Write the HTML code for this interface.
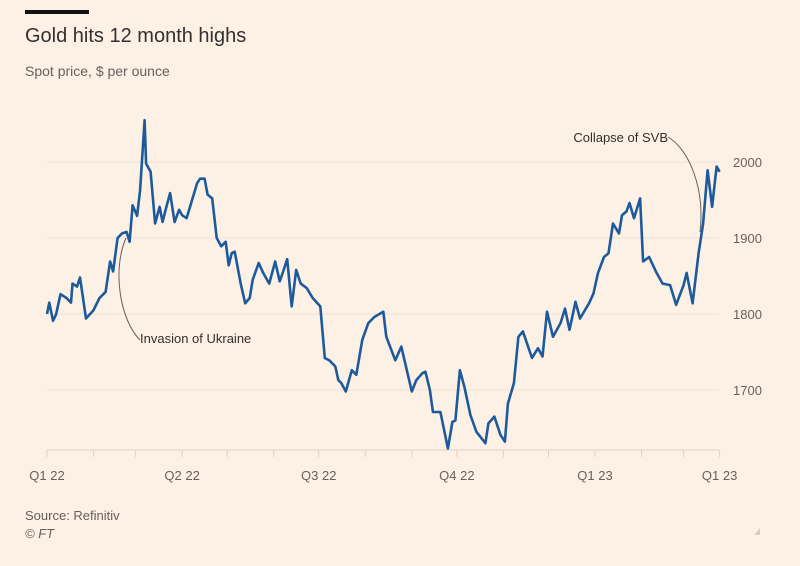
<!DOCTYPE html>
<html><head><meta charset="utf-8"><style>
body{margin:0;background:#fdf1e6;}
#wrap{position:relative;width:800px;height:566px;background:#fdf1e6;font-family:"Liberation Sans",sans-serif;overflow:hidden;}
.t{position:absolute;white-space:nowrap;}
</style></head><body>
<div id="wrap">
<div class="t" style="left:25px;top:10px;width:64px;height:4px;background:#111;"></div>
<div class="t" style="left:25px;top:25px;font-size:20px;color:#33302e;">Gold hits 12 month highs</div>
<div class="t" style="left:25px;top:63px;font-size:14px;color:#66605c;">Spot price, $ per ounce</div>
<svg id="chart" width="800" height="566" style="position:absolute;left:0;top:0;"></svg>
<div class="t" style="left:25px;top:508px;font-size:13px;color:#66605c;">Source: Refinitiv</div>
<div class="t" style="left:25px;top:526px;font-size:13px;font-style:italic;color:#66605c;">© FT</div>
</div>
<script>
const days=[0,1.5,4,6,9,13,16,17,20,22,26,31,35,39,42,44,47,50,53,55,57,60,62,65,66,69,72,75,77,79,82,85,88,90,93,100,102,105,107,110,113,116,119,121,123,125,129,132,135,137,141,144,148,152,155,157,160,163,166,169,173,177,182,185,188,192,194,196,199,203,206,210,214,218,224,226,232,236,243,246,250,252,255,257,262,267,270,272,275,278,282,286,292,294,298,302,305,307,311,314,317,323,327,330,333,337,342,345,348,352,355,361,364,367,371,374,377,381,383,386,388,391,395,397,401,406,410,415,419,424,426,430,434,437,440,443,446,448];
const prices=[1800,1815,1791,1799,1826,1821,1815,1840,1836,1848,1794,1805,1821,1829,1869,1856,1900,1906,1908,1895,1943,1929,1963,2055,1998,1987,1919,1941,1921,1937,1959,1921,1937,1930,1926,1972,1978,1978,1957,1952,1900,1889,1895,1864,1880,1882,1840,1814,1821,1845,1867,1854,1840,1869,1843,1854,1872,1810,1858,1840,1834,1821,1810,1742,1739,1731,1713,1709,1698,1726,1720,1766,1788,1796,1803,1770,1739,1757,1698,1713,1722,1724,1700,1671,1671,1623,1658,1660,1726,1704,1667,1645,1630,1656,1665,1641,1632,1682,1709,1770,1777,1742,1755,1744,1803,1770,1788,1807,1779,1816,1794,1814,1827,1854,1875,1880,1919,1906,1930,1935,1946,1926,1952,1869,1875,1854,1840,1838,1812,1838,1854,1814,1880,1919,1989,1941,1994,1987];
const yTicks=[1700,1800,1900,2000];
const monthTicks=[0,31,59,90,120,151,181,212,243,273,304,334,365,396,424,448];
const xLabels=["Q1 22","Q2 22","Q3 22","Q4 22","Q1 23","Q1 23"];
const xLabelDays=[0,90,181,273,365,448];
const x=d=>47+d*1.5014;
const y=v=>450-(v-1621)*0.76;
const svg=document.getElementById('chart');
const NS='http://www.w3.org/2000/svg';
function mk(tag,attrs){const e=document.createElementNS(NS,tag);for(const k in attrs)e.setAttribute(k,attrs[k]);svg.appendChild(e);return e;}
yTicks.forEach(v=>{
 const g=mk('line',{x1:47,x2:719,y1:y(v),y2:y(v),stroke:'#efe2d5','stroke-width':1});
 
 
 const t=mk('text',{x:733,y:y(v)+5,'font-size':13,fill:'#66605c','font-family':'Liberation Sans, sans-serif'});
 t.textContent=v;
 
 
});
const ax=mk('line',{x1:47,x2:719,y1:450,y2:450,stroke:'#e0d3c6','stroke-width':1});


monthTicks.forEach(d=>{
 const tk=mk('line',{x1:x(d),x2:x(d),y1:450,y2:457,stroke:'#e0d3c6','stroke-width':1});
 
 
});
xLabels.forEach((l,i)=>{
 const t=mk('text',{x:x(xLabelDays[i]),y:480,'font-size':13,fill:'#66605c','text-anchor':'middle','font-family':'Liberation Sans, sans-serif'});
 t.textContent=l;
 
 
});
const a1=mk('path',{d:'M126,238 C112,270 120,320 140,340',fill:'none',stroke:'#66605c','stroke-width':1});


const a2=mk('path',{d:'M668,137 C690,150 705,190 700,232',fill:'none',stroke:'#66605c','stroke-width':1});


let d='';days.forEach((dd,i)=>{d+=(i?'L':'M')+x(dd).toFixed(1)+','+y(prices[i]).toFixed(1);});
const ln=mk('path',{d:d,fill:'none',stroke:'#1d5a9c','stroke-width':2.6,'stroke-linejoin':'round'});


const t1=mk('text',{x:140,y:343,'font-size':13,fill:'#33302e','font-family':'Liberation Sans, sans-serif'});
t1.textContent='Invasion of Ukraine';


const t2=mk('text',{x:668,y:142,'font-size':13,fill:'#33302e','text-anchor':'end','font-family':'Liberation Sans, sans-serif'});
t2.textContent='Collapse of SVB';


const tri=mk('path',{d:'M754,535 L760,528 L760,535 Z',fill:'#d8ccc0'});


</script>
</body></html>
